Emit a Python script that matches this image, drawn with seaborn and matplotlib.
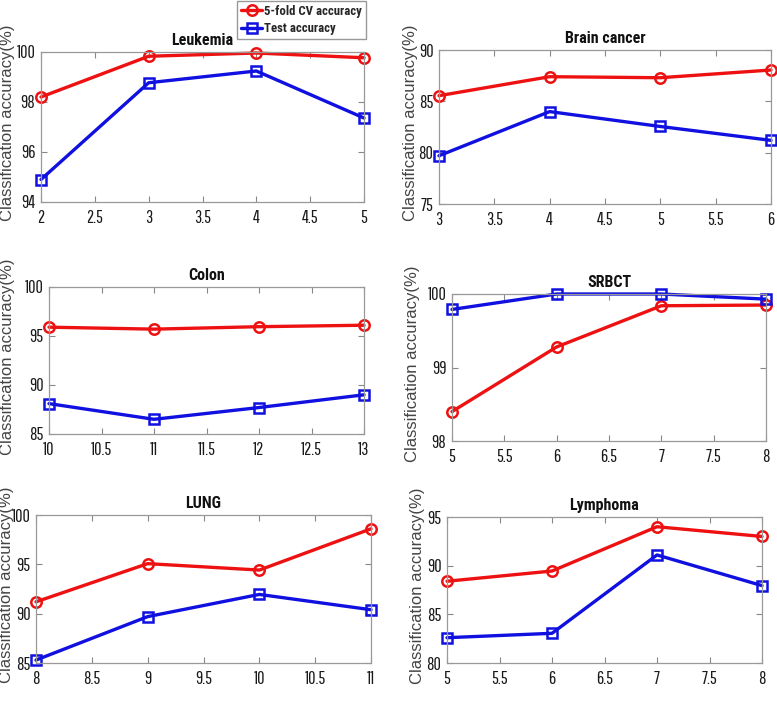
import matplotlib
matplotlib.use("Agg")
import matplotlib.pyplot as plt
import seaborn as sns
import pandas as pd

# feature counts (x) and accuracies per dataset
leuk_k = [2, 3, 4, 5]
leuk_cv = [98.2, 99.83, 99.96, 99.77]
leuk_test = [94.9, 98.77, 99.24, 97.36]

brain_k = [3, 4, 5, 6]
brain_cv = [85.55, 87.4, 87.3, 88.05]
brain_test = [79.7, 84.0, 82.55, 81.2]

colon_k = [10, 11, 12, 13]
colon_cv = [95.9, 95.7, 95.95, 96.1]
colon_test = [88.1, 86.5, 87.7, 89.0]

srbct_k = [5, 6, 7, 8]
srbct_cv = [98.4, 99.28, 99.84, 99.85]
srbct_test = [99.79, 100.0, 100.0, 99.93]

lung_k = [8, 9, 10, 11]
lung_cv = [91.2, 95.07, 94.42, 98.6]
lung_test = [85.3, 89.7, 91.95, 90.4]

lymph_k = [5, 6, 7, 8]
lymph_cv = [88.4, 89.45, 94.0, 93.0]
lymph_test = [82.6, 83.05, 91.1, 87.95]

W, H = 777, 701
TICKFONT = ['Pathway Gothic One', 'Archivo Narrow', 'DejaVu Sans']
BOLDFONT = ['Roboto Condensed', 'DejaVu Sans']
PLAIN = ['Liberation Sans', 'DejaVu Sans']

# (title, x, cv, test, ylim, yticks, axes box in pixels: left, top, right, bottom, ylabel x)
panels = [
    ('Leukemia', leuk_k, leuk_cv, leuk_test, (94, 100), [94, 96, 98, 100], (41, 52, 364, 202), 8),
    ('Brain cancer', brain_k, brain_cv, brain_test, (75, 90), [75, 80, 85, 90], (439, 50, 771, 204), 410),
    ('Colon', colon_k, colon_cv, colon_test, (85, 100), [85, 90, 95, 100], (49, 287, 364, 434), 8),
    ('SRBCT', srbct_k, srbct_cv, srbct_test, (98, 100), [98, 99, 100], (452, 294, 766, 441), 413),
    ('LUNG', lung_k, lung_cv, lung_test, (85, 100), [85, 90, 95, 100], (36, 515, 371, 663), 7),
    ('Lymphoma', lymph_k, lymph_cv, lymph_test, (80, 95), [80, 85, 90, 95], (447, 517, 762, 663), 417),
]

sns.set_theme(style="white")
plt.rcParams['font.family'] = TICKFONT

fig = plt.figure(figsize=(W / 100, H / 100), dpi=100)

handles = None
for title, k, cv, test, ylim, yticks, box, label_x in panels:
    l, t, r, b = box
    ax = fig.add_axes([l / W, 1 - b / H, (r - l) / W, (b - t) / H])
    df = pd.DataFrame({'k': k, 'cv': cv, 'test': test})
    sns.lineplot(data=df, x='k', y='cv', ax=ax, color='#ee1111', lw=2.4,
                 marker='o', markersize=7.5, markerfacecolor='none',
                 markeredgecolor='#ee1111', markeredgewidth=1.8,
                 label='5-fold CV accuracy', clip_on=False)
    sns.lineplot(data=df, x='k', y='test', ax=ax, color='#1010e0', lw=2.4,
                 marker='s', markersize=6.5, markerfacecolor='none',
                 markeredgecolor='#1010e0', markeredgewidth=1.8,
                 label='Test accuracy', clip_on=False)
    if handles is None:
        handles, labels = ax.get_legend_handles_labels()
    ax.get_legend().remove()

    ax.set_xlim(k[0], k[-1])
    ax.set_ylim(*ylim)
    ax.set_yticks(yticks)
    ax.set_xticks([k[0] + 0.5 * i for i in range(7)])
    ax.set_xticklabels([f'{k[0] + 0.5 * i:g}' for i in range(7)])
    ax.set_xlabel('')
    ax.set_ylabel('')
    ax.tick_params(direction='in', length=4, width=0.8, color='#888888',
                   top=True, right=True, bottom=True, left=True,
                   labelsize=13, labelcolor='#1a1a1a')
    ax.tick_params(axis='x', pad=6)
    ax.tick_params(axis='y', pad=4)
    for s in ax.spines.values():
        s.set_color('#999999')
        s.set_linewidth(0.9)
    ax.set_title(title, fontsize=11.5, fontweight='bold', pad=5, color='#111111',
                 family=BOLDFONT)

    fig.text(label_x / W, 1 - ((t + b) / 2 - 4) / H, 'Classification accuracy(%)',
             rotation=90, ha='center', va='center', fontsize=12,
             family=PLAIN, color='#444444')

leg = fig.legend(handles, labels, loc='upper right', bbox_to_anchor=(366 / W, 1 - 1 / H),
                 prop={'family': BOLDFONT, 'weight': 'bold', 'size': 9.2},
                 handlelength=1.6, handletextpad=0.2, borderpad=0.3, borderaxespad=0,
                 labelspacing=0.35, frameon=True, fancybox=False, framealpha=1)
leg.get_frame().set_edgecolor('#999999')

fig.savefig('out.png', dpi=100)
